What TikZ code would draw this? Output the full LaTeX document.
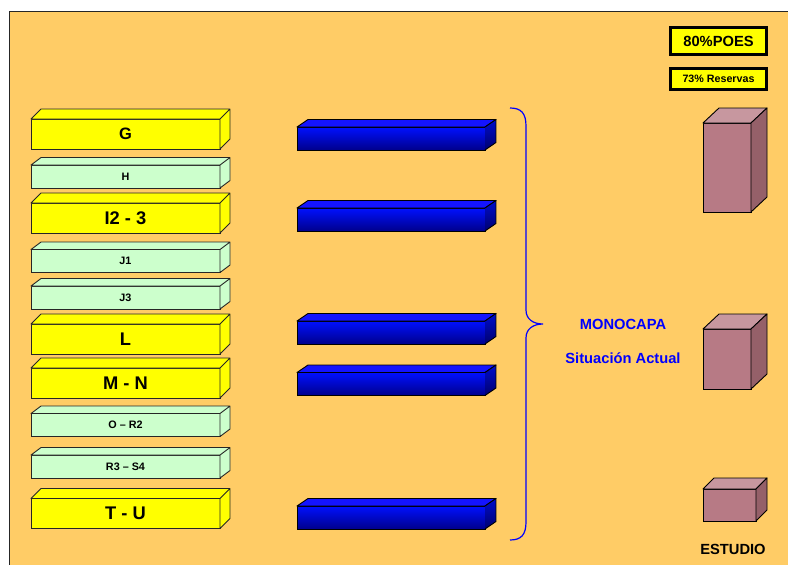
\documentclass[tikz,border=0pt]{standalone}
\usepackage{fontspec}
\setmainfont{Liberation Sans}
\usepackage{tikz}
\usetikzlibrary{calc}
\definecolor{poesorange}{HTML}{FFCC66}
\definecolor{poesyellow}{HTML}{FFFF00}
\definecolor{poesgreen}{HTML}{CCFFCC}
\definecolor{poesblue}{HTML}{0010FF}
\definecolor{poesnavy}{HTML}{00008C}
\definecolor{poesmauve}{HTML}{B77A85}
\definecolor{poesmauvetop}{HTML}{C7979F}
\definecolor{poesmauveside}{HTML}{956069}
\definecolor{poesline}{HTML}{262626}

\begin{document}
\begin{tikzpicture}[
    x=1pt, y=-1pt,
    layer/.style={
      rectangle, draw=poesline, line width=0.9pt, fill=poesyellow,
      inner sep=0pt, outer sep=0pt, minimum width=189pt, minimum height=30pt,
      font=\fontsize{18.3}{20}\selectfont\bfseries
    },
    thinlayer/.style={
      layer, fill=poesgreen, minimum height=23pt,
      font=\fontsize{10.8}{12}\selectfont\bfseries
    },
    bluebar/.style={
      rectangle, draw=black, line width=0.9pt, top color=poesblue, bottom color=poesnavy,
      inner sep=0pt, outer sep=0pt, minimum width=188pt, minimum height=23pt
    },
    block/.style={
      rectangle, draw=black, line width=0.9pt, fill=poesmauve,
      inner sep=0pt, outer sep=0pt
    },
    face/.style={draw=poesline, line width=0.9pt, line join=round},
    tag/.style={
      rectangle, draw=black, line width=3pt, fill=poesyellow,
      inner sep=0pt, minimum width=96pt
    },
    bluetext/.style={text=blue, font=\fontsize{14.7}{16}\selectfont\bfseries, anchor=base},
    curl/.style={draw=blue, line width=1.2pt},
  ]

  \useasboundingbox (0,0) rectangle (788,565);
  \fill[poesorange] (9.5,11) rectangle (788,565);
  \draw[poesline, line width=0.9pt] (9.5,565) -- (9.5,11) -- (788,11);

  % left column
  \node[layer, font=\fontsize{16.5}{18}\selectfont\bfseries] (g) at (125.5,134) {G};
  \node[thinlayer] (h) at (125.5,176.5) {H};
  \node[layer] (i) at (125.5,218) {I2 - 3};
  \node[thinlayer] (ja) at (125.5,261) {J1};
  \node[thinlayer] (jc) at (125.5,297.5) {J3};
  \node[layer] (l) at (125.5,339) {L};
  \node[layer] (mn) at (125.5,383) {M - N};
  \node[thinlayer] (or) at (125.5,425) {O – R2};
  \node[thinlayer] (rs) at (125.5,466.5) {R3 – S4};
  \node[layer] (tu) at (125.5,513.5) {T - U};

  \foreach \n in {g, i, l, mn, tu}
    \filldraw[face, fill=poesyellow]
      (\n.north west) -- ++(10,-10) -- ($(\n.north east)+(10,-10)$)
      -- ($(\n.south east)+(10,-10)$) -- (\n.south east) -- (\n.north east) -- cycle
      (\n.north east) -- ++(10,-10);
  \foreach \n in {h, ja, jc, or, rs}
    \filldraw[face, fill=poesgreen]
      (\n.north west) -- ++(10,-7.5) -- ($(\n.north east)+(10,-7.5)$)
      -- ($(\n.south east)+(10,-7.5)$) -- (\n.south east) -- (\n.north east) -- cycle
      (\n.north east) -- ++(10,-7.5);

  % blue bars
  \node[bluebar] (bg) at (391,138.5) {};
  \node[bluebar] (bi) at (391,219.5) {};
  \node[bluebar] (bl) at (391,332.5) {};
  \node[bluebar] (bmn) at (391,384) {};
  \node[bluebar] (btu) at (391,517.5) {};

  \foreach \n in {bg, bi, bl, bmn, btu} {
    \filldraw[face, draw=black, fill={rgb,255:red,20;green,20;blue,255}]
      (\n.north west) -- ++(11,-7.5) -- ($(\n.north east)+(11,-7.5)$) -- (\n.north east) -- cycle;
    \shade[top color=poesblue!80!black, bottom color=poesnavy!80!black]
      (\n.north east) -- ++(11,-7.5) -- ($(\n.south east)+(11,-7.5)$) -- (\n.south east) -- cycle;
    \draw[face, draw=black]
      (\n.north east) -- ++(11,-7.5) -- ($(\n.south east)+(11,-7.5)$) -- (\n.south east);
  }

  % brace
  \coordinate (bracetop) at (510,108);
  \coordinate (bracetip) at (543,324);
  \coordinate (bracebot) at (510,540);
  \draw[curl] (bracetop) .. controls (521,108) and (526,113) .. (526,126) -- (526,310)
    .. controls (526,319) and (533,324) .. (bracetip)
    .. controls (533,324) and (526,329) .. (526,338) -- (526,522)
    .. controls (526,535) and (521,540) .. (bracebot);

  \node[bluetext] (mono) at (623,329.5) {MONOCAPA};
  \node[bluetext] (situ) at (623,363.5) {Situación Actual};

  % right column
  \node[tag, minimum height=27pt, font=\fontsize{14.7}{16}\selectfont\bfseries] (poes) at (718.5,41) {80\%POES};
  \node[tag, minimum height=21pt, font=\fontsize{10.7}{12}\selectfont\bfseries] (reservas) at (718.5,79) {73\% Reservas};

  \node[block, minimum width=48pt, minimum height=89pt] (ca) at (727,167.5) {};
  \node[block, minimum width=48pt, minimum height=60pt] (cb) at (727,359) {};
  \node[block, minimum width=53pt, minimum height=32pt] (cc) at (729.5,505) {};

  \foreach \n/\dpx/\dpy in {ca/16/15, cb/16/15, cc/11/11} {
    \filldraw[face, draw=black, fill=poesmauvetop]
      (\n.north west) -- ++(\dpx,-\dpy) -- ($(\n.north east)+(\dpx,-\dpy)$) -- (\n.north east) -- cycle;
    \filldraw[face, draw=black, fill=poesmauveside]
      (\n.north east) -- ++(\dpx,-\dpy) -- ($(\n.south east)+(\dpx,-\dpy)$) -- (\n.south east) -- cycle;
  }

  \node[anchor=base, font=\fontsize{14.7}{16}\selectfont\bfseries] (estudio) at (733,554) {ESTUDIO};

\end{tikzpicture}
\end{document}
